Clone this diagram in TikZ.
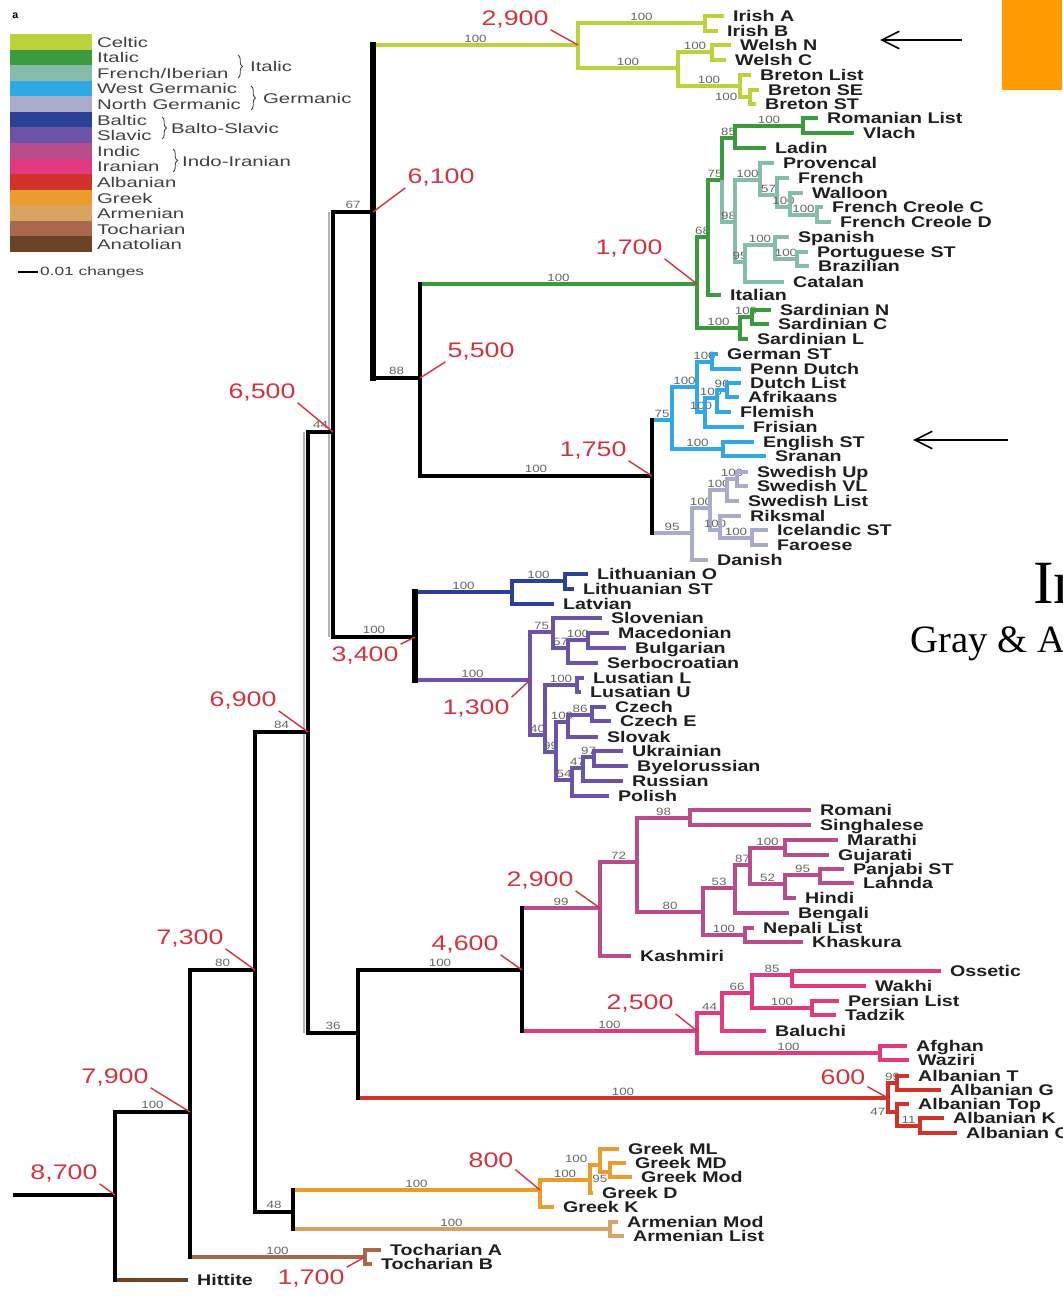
\documentclass[tikz,border=0pt]{standalone}
\usepackage{fontspec}
\setmainfont{Liberation Sans}
\newfontfamily\treefont[FakeStretch=1.27]{Liberation Sans}
\newfontfamily\legfont[FakeStretch=1.45]{Liberation Sans}
\newfontfamily\slidefont{Liberation Serif}
\usetikzlibrary{arrows.meta,calc,decorations.pathreplacing}

\definecolor{cCelt}{HTML}{BDD13B}
\definecolor{cItal}{HTML}{3A9B3E}
\definecolor{cFrIb}{HTML}{86BCAA}
\definecolor{cWG}{HTML}{2FA8E4}
\definecolor{cNG}{HTML}{A9ABCB}
\definecolor{cBalt}{HTML}{2B4199}
\definecolor{cSlav}{HTML}{6B54A8}
\definecolor{cIndic}{HTML}{B84C8C}
\definecolor{cIran}{HTML}{E2397F}
\definecolor{cAlb}{HTML}{D3322B}
\definecolor{cGreek}{HTML}{EA9C2C}
\definecolor{cArm}{HTML}{D9A462}
\definecolor{cToch}{HTML}{A9674C}
\definecolor{cAnat}{HTML}{6A4224}
\definecolor{cDate}{HTML}{D2343F}
\definecolor{cSlide}{HTML}{FF9B00}

\newcommand{\leafnode}[4]{\node[leaf] (#1) at (#2,#3) {#4};}

\tikzset{
  br/.style={line width=1.8pt},
  spine/.style={line width=2.4pt, black, line cap=rect},
  thickspine/.style={line width=3.6pt, black, line cap=rect},
  ghost/.style={line width=1.6pt, black!30},
  leaf/.style={anchor=west, inner xsep=5pt, inner ysep=0pt, text height=1.4ex, text depth=0.2ex,
    text=black!88, font=\treefont\bfseries\fontsize{8.8}{8.8}\selectfont},
  boot/.style={pos=0.75, above, inner sep=0.6pt, text=black!60, font=\treefont\fontsize{6}{6}\selectfont},
  datelbl/.style={inner sep=1pt, text=cDate, font=\treefont\fontsize{12}{12}\selectfont},
  datepin/.style={cDate, line width=0.8pt},
  legtext/.style={anchor=west, inner sep=1pt, text=black!75, font=\legfont\fontsize{8}{8}\selectfont},
  legbrace/.style={decorate, decoration={brace, amplitude=2.5pt}, line width=0.5pt, black!75},
  pointer/.style={-{Straight Barb[length=10pt,width=10pt]}, line width=0.9pt},
}

\begin{document}
\begin{tikzpicture}[x=0.02cm, y=-0.02cm]
  \useasboundingbox (0,0) rectangle (1062,1300);

  % Legend
  \node[anchor=west, inner sep=0pt, font=\bfseries\fontsize{6}{6}\selectfont] (panel) at (12,16) {a};
  \fill[cCelt] (10,34) rectangle (92,50);
  \fill[cItal] (10,50) rectangle (92,65);
  \fill[cFrIb] (10,65) rectangle (92,81);
  \fill[cWG] (10,81) rectangle (92,96);
  \fill[cNG] (10,96) rectangle (92,112);
  \fill[cBalt] (10,112) rectangle (92,127);
  \fill[cSlav] (10,127) rectangle (92,143);
  \fill[cIndic] (10,143) rectangle (92,159);
  \fill[cIran] (10,159) rectangle (92,174);
  \fill[cAlb] (10,174) rectangle (92,190);
  \fill[cGreek] (10,190) rectangle (92,205);
  \fill[cArm] (10,205) rectangle (92,221);
  \fill[cToch] (10,221) rectangle (92,236);
  \fill[cAnat] (10,236) rectangle (92,252);
  \node[legtext] (lCelt) at (95,42) {Celtic};
  \node[legtext] (lItal) at (95,57) {Italic};
  \node[legtext] (lFrIb) at (95,73) {French/Iberian};
  \node[legtext] (lWG) at (95,88) {West Germanic};
  \node[legtext] (lNG) at (95,104) {North Germanic};
  \node[legtext] (lBalt) at (95,120) {Baltic};
  \node[legtext] (lSlav) at (95,135) {Slavic};
  \node[legtext] (lIndic) at (95,151) {Indic};
  \node[legtext] (lIran) at (95,166) {Iranian};
  \node[legtext] (lAlb) at (95,182) {Albanian};
  \node[legtext] (lGreek) at (95,198) {Greek};
  \node[legtext] (lArm) at (95,213) {Armenian};
  \node[legtext] (lToch) at (95,229) {Tocharian};
  \node[legtext] (lAnat) at (95,244) {Anatolian};
  % Braces
  \coordinate (bIt1) at (238,55);   \coordinate (bIt2) at (238,78);
  \coordinate (bGe1) at (251,86);   \coordinate (bGe2) at (251,110);
  \coordinate (bBS1) at (162,117);  \coordinate (bBS2) at (162,139);
  \coordinate (bII1) at (173,149);  \coordinate (bII2) at (173,172);
  \draw[legbrace] (bIt1) -- (bIt2);
  \draw[legbrace] (bGe1) -- (bGe2);
  \draw[legbrace] (bBS1) -- (bBS2);
  \draw[legbrace] (bII1) -- (bII2);
  \node[legtext] (gItal) at (248,66) {Italic};
  \node[legtext] (gGerm) at (261,98) {Germanic};
  \node[legtext] (gBS) at (169,128) {Balto-Slavic};
  \node[legtext] (gII) at (180,161) {Indo-Iranian};
  % Scale bar
  \coordinate (scl0) at (18,272);
  \node[legtext, font=\legfont\fontsize{6.8}{6.8}\selectfont] (scl) at (38,272) {0.01 changes};
  \draw[line width=1.6pt] (scl0) -- (scl.west);

  % Backbone points
  \coordinate (root) at (15,1195);
  \coordinate (nA) at (115,1195);
  \coordinate (nB) at (190,1112);
  \coordinate (nC) at (255,970);
  \coordinate (nD) at (308,732);
  \coordinate (nE) at (333,432);
  \coordinate (nG) at (373,212);
  \coordinate (nH) at (420,378);
  \coordinate (nF) at (358,1033);
  \coordinate (nII) at (522,970);
  \coordinate (nGA) at (293,1212);
  \coordinate (bs) at (415,637);
  \coordinate (germ) at (652,476);

  % Celtic
  \coordinate (celt) at (578,45);
  \coordinate (irish) at (705,23);
  \coordinate (bryth) at (678,68);
  \coordinate (welsh) at (712,52);
  \coordinate (bret) at (740,86);
  \coordinate (bret2) at (750,97);
  \leafnode{irA}{724}{16}{Irish A}
  \leafnode{irB}{718}{31}{Irish B}
  \leafnode{weN}{731}{45}{Welsh N}
  \leafnode{weC}{726}{60}{Welsh C}
  \leafnode{brL}{751}{75}{Breton List}
  \leafnode{brSE}{759}{90}{Breton SE}
  \leafnode{brST}{756}{104}{Breton ST}
  \begin{scope}[br, cCelt]
    \draw (celt) |- node[boot]{100} (irish);
    \draw (celt) |- node[boot]{100} (bryth);
    \draw (irish) |- (irA.west);
    \draw (irish) |- (irB.west);
    \draw (bryth) |- node[boot]{100} (welsh);
    \draw (bryth) |- node[boot]{100} (bret);
    \draw (welsh) |- (weN.west);
    \draw (welsh) |- (weC.west);
    \draw (bret) |- (brL.west);
    \draw (bret) |- node[boot, pos=0.5, left]{100} (bret2);
    \draw (bret2) |- (brSE.west);
    \draw (bret2) |- (brST.west);
  \end{scope}

  % Italic
  \coordinate (ital) at (697,284);
  \coordinate (i75) at (708,237);
  \coordinate (i85) at (722,180);
  \coordinate (roml) at (735,138);
  \coordinate (rom) at (803,126);
  \coordinate (frib) at (735,222);
  \coordinate (gallo) at (760,180);
  \coordinate (g57) at (777,195);
  \coordinate (wal) at (790,207);
  \coordinate (fcr) at (817,215);
  \coordinate (iber) at (745,262);
  \coordinate (sppt) at (775,245);
  \coordinate (port) at (797,259);
  \coordinate (sard) at (740,328);
  \coordinate (sardNC) at (752,317);
  \leafnode{romL}{818}{118}{Romanian List}
  \leafnode{vla}{854}{133}{Vlach}
  \leafnode{lad}{766}{148}{Ladin}
  \leafnode{prv}{774}{163}{Provencal}
  \leafnode{fre}{789}{178}{French}
  \leafnode{wln}{803}{193}{Walloon}
  \leafnode{fcC}{823}{207}{French Creole C}
  \leafnode{fcD}{831}{222}{French Creole D}
  \leafnode{spa}{789}{237}{Spanish}
  \leafnode{por}{808}{252}{Portuguese ST}
  \leafnode{bra}{809}{266}{Brazilian}
  \leafnode{cat}{784}{282}{Catalan}
  \leafnode{ita}{721}{295}{Italian}
  \leafnode{sdN}{771}{310}{Sardinian N}
  \leafnode{sdC}{769}{324}{Sardinian C}
  \leafnode{sdL}{748}{339}{Sardinian L}
  \begin{scope}[br, cItal]
    \draw (ital) |- node[boot]{68} (i75);
    \draw (ital) |- node[boot]{100} (sard);
    \draw (i75) |- node[boot]{75} (i85);
    \draw (i75) |- (ita.west);
    \draw (i85) |- node[boot]{85} (roml);
    \draw (roml) |- node[boot]{100} (rom);
    \draw (roml) |- (lad.west);
    \draw (rom) |- (romL.west);
    \draw (rom) |- (vla.west);
    \draw (sard) |- node[boot]{100} (sardNC);
    \draw (sard) |- (sdL.west);
    \draw (sardNC) |- (sdN.west);
    \draw (sardNC) |- (sdC.west);
  \end{scope}
  \begin{scope}[br, cFrIb]
    \draw (i85) |- node[boot]{98} (frib);
    \draw (frib) |- node[boot]{100} (gallo);
    \draw (frib) |- node[boot]{95} (iber);
    \draw (gallo) |- (prv.west);
    \draw (gallo) |- node[boot]{57} (g57);
    \draw (g57) |- (fre.west);
    \draw (g57) |- node[boot]{100} (wal);
    \draw (wal) |- (wln.west);
    \draw (wal) |- node[boot]{100} (fcr);
    \draw (fcr) |- (fcC.west);
    \draw (fcr) |- (fcD.west);
    \draw (iber) |- node[boot]{100} (sppt);
    \draw (iber) |- (cat.west);
    \draw (sppt) |- (spa.west);
    \draw (sppt) |- node[boot]{100} (port);
    \draw (port) |- (por.west);
    \draw (port) |- (bra.west);
  \end{scope}

  % Germanic
  \coordinate (wg) at (672,420);
  \coordinate (wg1) at (697,387);
  \coordinate (gd) at (712,362);
  \coordinate (wg2) at (705,412);
  \coordinate (dfl) at (717,398);
  \coordinate (da) at (727,390);
  \coordinate (eng) at (723,449);
  \coordinate (ng) at (692,533);
  \coordinate (sw) at (710,508);
  \coordinate (swe) at (727,490);
  \coordinate (swe2) at (737,479);
  \coordinate (ic) at (720,530);
  \coordinate (isl) at (752,538);
  \leafnode{gerST}{718}{354}{German ST}
  \leafnode{penn}{741}{369}{Penn Dutch}
  \leafnode{dut}{741}{383}{Dutch List}
  \leafnode{afr}{739}{397}{Afrikaans}
  \leafnode{fle}{731}{412}{Flemish}
  \leafnode{fri}{744}{427}{Frisian}
  \leafnode{engST}{754}{442}{English ST}
  \leafnode{sra}{766}{456}{Sranan}
  \leafnode{swU}{748}{472}{Swedish Up}
  \leafnode{swV}{748}{486}{Swedish VL}
  \leafnode{swL}{739}{501}{Swedish List}
  \leafnode{rik}{741}{516}{Riksmal}
  \leafnode{ice}{768}{530}{Icelandic ST}
  \leafnode{far}{768}{545}{Faroese}
  \leafnode{dan}{708}{560}{Danish}
  \begin{scope}[br, cWG]
    \draw (germ) |- node[boot]{75} (wg);
    \draw (wg) |- node[boot]{100} (wg1);
    \draw (wg) |- node[boot]{100} (eng);
    \draw (wg1) |- node[boot]{100} (gd);
    \draw (wg1) |- node[boot]{100} (wg2);
    \draw (gd) |- (gerST.west);
    \draw (gd) |- (penn.west);
    \draw (wg2) |- node[boot]{100} (dfl);
    \draw (wg2) |- (fri.west);
    \draw (dfl) |- node[boot]{96} (da);
    \draw (dfl) |- (fle.west);
    \draw (da) |- (dut.west);
    \draw (da) |- (afr.west);
    \draw (eng) |- (engST.west);
    \draw (eng) |- (sra.west);
  \end{scope}
  \begin{scope}[br, cNG]
    \draw (germ) |- node[boot]{95} (ng);
    \draw (ng) |- node[boot]{100} (sw);
    \draw (ng) |- (dan.west);
    \draw (sw) |- node[boot]{100} (swe);
    \draw (sw) |- node[boot]{100} (ic);
    \draw (swe) |- node[boot]{100} (swe2);
    \draw (swe) |- (swL.west);
    \draw (swe2) |- (swU.west);
    \draw (swe2) |- (swV.west);
    \draw (ic) |- (rik.west);
    \draw (ic) |- node[boot]{100} (isl);
    \draw (isl) |- (ice.west);
    \draw (isl) |- (far.west);
  \end{scope}

  % Balto-Slavic
  \coordinate (balt) at (512,592);
  \coordinate (lith) at (565,581);
  \coordinate (slav) at (530,680);
  \coordinate (ss) at (553,632);
  \coordinate (sb) at (568,648);
  \coordinate (mb) at (588,640);
  \coordinate (wes) at (545,735);
  \coordinate (lus) at (577,685);
  \coordinate (wes2) at (556,752);
  \coordinate (cz) at (568,722);
  \coordinate (czc) at (592,715);
  \coordinate (es) at (572,780);
  \coordinate (es2) at (583,768);
  \coordinate (ub) at (594,757);
  \leafnode{litO}{588}{574}{Lithuanian O}
  \leafnode{litST}{574}{589}{Lithuanian ST}
  \leafnode{lat}{554}{604}{Latvian}
  \leafnode{slo}{602}{618}{Slovenian}
  \leafnode{mac}{609}{633}{Macedonian}
  \leafnode{bul}{626}{648}{Bulgarian}
  \leafnode{ser}{598}{663}{Serbocroatian}
  \leafnode{lsL}{584}{678}{Lusatian L}
  \leafnode{lsU}{581}{692}{Lusatian U}
  \leafnode{cze}{606}{707}{Czech}
  \leafnode{czE}{611}{721}{Czech E}
  \leafnode{slk}{598}{737}{Slovak}
  \leafnode{ukr}{623}{751}{Ukrainian}
  \leafnode{bye}{628}{766}{Byelorussian}
  \leafnode{rus}{623}{781}{Russian}
  \leafnode{pol}{609}{796}{Polish}
  \begin{scope}[br, cBalt]
    \draw (bs) |- node[boot]{100} (balt);
    \draw (balt) |- node[boot]{100} (lith);
    \draw (balt) |- (lat.west);
    \draw (lith) |- (litO.west);
    \draw (lith) |- (litST.west);
  \end{scope}
  \begin{scope}[br, cSlav]
    \draw (bs) |- node[boot]{100} (slav);
    \draw (slav) |- node[boot]{75} (ss);
    \draw (slav) |- node[boot]{40} (wes);
    \draw (ss) |- (slo.west);
    \draw (ss) |- node[boot]{57} (sb);
    \draw (sb) |- node[boot]{100} (mb);
    \draw (sb) |- (ser.west);
    \draw (mb) |- (mac.west);
    \draw (mb) |- (bul.west);
    \draw (wes) |- node[boot]{100} (lus);
    \draw (wes) |- node[boot]{99} (wes2);
    \draw (lus) |- (lsL.west);
    \draw (lus) |- (lsU.west);
    \draw (wes2) |- node[boot]{100} (cz);
    \draw (wes2) |- node[boot]{54} (es);
    \draw (cz) |- node[boot]{86} (czc);
    \draw (cz) |- (slk.west);
    \draw (czc) |- (cze.west);
    \draw (czc) |- (czE.west);
    \draw (es) |- node[boot]{47} (es2);
    \draw (es) |- (pol.west);
    \draw (es2) |- node[boot]{97} (ub);
    \draw (es2) |- (rus.west);
    \draw (ub) |- (ukr.west);
    \draw (ub) |- (bye.west);
  \end{scope}

  % Indic
  \coordinate (indic) at (600,908);
  \coordinate (i72) at (637,862);
  \coordinate (rs) at (690,818);
  \coordinate (i80) at (703,912);
  \coordinate (nk) at (745,935);
  \coordinate (i53) at (735,888);
  \coordinate (i87) at (750,865);
  \coordinate (mg) at (785,848);
  \coordinate (i52) at (785,884);
  \coordinate (pl) at (820,875);
  \leafnode{rmi}{811}{810}{Romani}
  \leafnode{sin}{811}{825}{Singhalese}
  \leafnode{mar}{838}{840}{Marathi}
  \leafnode{guj}{829}{855}{Gujarati}
  \leafnode{pan}{844}{869}{Panjabi ST}
  \leafnode{lah}{854}{883}{Lahnda}
  \leafnode{hin}{796}{898}{Hindi}
  \leafnode{ben}{789}{913}{Bengali}
  \leafnode{nep}{754}{928}{Nepali List}
  \leafnode{kha}{803}{942}{Khaskura}
  \leafnode{kas}{631}{956}{Kashmiri}
  \begin{scope}[br, cIndic]
    \draw (indic) |- node[boot]{72} (i72);
    \draw (indic) |- (kas.west);
    \draw (i72) |- node[boot]{98} (rs);
    \draw (i72) |- node[boot]{80} (i80);
    \draw (rs) |- (rmi.west);
    \draw (rs) |- (sin.west);
    \draw (i80) |- node[boot]{53} (i53);
    \draw (i80) |- node[boot]{100} (nk);
    \draw (nk) |- (nep.west);
    \draw (nk) |- (kha.west);
    \draw (i53) |- node[boot]{87} (i87);
    \draw (i53) |- (ben.west);
    \draw (i87) |- node[boot]{100} (mg);
    \draw (i87) |- node[boot]{52} (i52);
    \draw (mg) |- (mar.west);
    \draw (mg) |- (guj.west);
    \draw (i52) |- node[boot]{95} (pl);
    \draw (i52) |- (hin.west);
    \draw (pl) |- (pan.west);
    \draw (pl) |- (lah.west);
  \end{scope}

  % Iranian
  \coordinate (iran) at (697,1031);
  \coordinate (ir44) at (722,1013);
  \coordinate (ir66) at (752,993);
  \coordinate (ow) at (792,975);
  \coordinate (pt) at (812,1008);
  \coordinate (aw) at (880,1053);
  \leafnode{oss}{941}{971}{Ossetic}
  \leafnode{wak}{866}{986}{Wakhi}
  \leafnode{per}{839}{1001}{Persian List}
  \leafnode{tad}{836}{1015}{Tadzik}
  \leafnode{bal}{766}{1031}{Baluchi}
  \leafnode{afg}{907}{1046}{Afghan}
  \leafnode{waz}{909}{1060}{Waziri}
  \begin{scope}[br, cIran]
    \draw (iran) |- node[boot]{44} (ir44);
    \draw (iran) |- node[boot]{100} (aw);
    \draw (ir44) |- node[boot]{66} (ir66);
    \draw (ir44) |- (bal.west);
    \draw (ir66) |- node[boot]{85} (ow);
    \draw (ir66) |- node[boot]{100} (pt);
    \draw (ow) |- (oss.west);
    \draw (ow) |- (wak.west);
    \draw (pt) |- (per.west);
    \draw (pt) |- (tad.west);
    \draw (aw) |- (afg.west);
    \draw (aw) |- (waz.west);
  \end{scope}

  % Albanian
  \coordinate (alb) at (888,1098);
  \coordinate (a99) at (897,1083);
  \coordinate (a47) at (897,1112);
  \coordinate (ak) at (920,1126);
  \leafnode{alT}{909}{1076}{Albanian T}
  \leafnode{alG}{941}{1090}{Albanian G}
  \leafnode{alTop}{909}{1104}{Albanian Top}
  \leafnode{alK}{944}{1118}{Albanian K}
  \leafnode{alC}{957}{1133}{Albanian C}
  \begin{scope}[br, cAlb]
    \draw (alb) |- node[boot]{99} (a99);
    \draw (alb) |- node[boot, pos=0.5, left]{47} (a47);
    \draw (a99) |- (alT.west);
    \draw (a99) |- (alG.west);
    \draw (a47) |- (alTop.west);
    \draw (a47) |- node[boot]{11} (ak);
    \draw (ak) |- (alK.west);
    \draw (ak) |- (alC.west);
  \end{scope}

  % Greek and Armenian
  \coordinate (greek) at (540,1190);
  \coordinate (g100) at (590,1180);
  \coordinate (gm) at (600,1165);
  \coordinate (gmd) at (610,1172);
  \coordinate (arm) at (610,1229);
  \leafnode{grML}{619}{1149}{Greek ML}
  \leafnode{grMD}{626}{1163}{Greek MD}
  \leafnode{grMod}{632}{1177}{Greek Mod}
  \leafnode{grD}{593}{1193}{Greek D}
  \leafnode{grK}{554}{1207}{Greek K}
  \leafnode{arMod}{618}{1222}{Armenian Mod}
  \leafnode{arL}{624}{1236}{Armenian List}
  \begin{scope}[br, cGreek]
    \draw (nGA) |- node[boot]{100} (greek);
    \draw (greek) |- node[boot]{100} (g100);
    \draw (greek) |- (grK.west);
    \draw (g100) |- node[boot, pos=0.5, above left]{100} (gm);
    \draw (g100) |- (grD.west);
    \draw (gm) |- (grML.west);
    \draw (gm) |- node[boot, pos=1, below left]{95} (gmd);
    \draw (gmd) |- (grMD.west);
    \draw (gmd) |- (grMod.west);
  \end{scope}
  \begin{scope}[br, cArm]
    \draw (nGA) |- node[boot]{100} (arm);
    \draw (arm) |- (arMod.west);
    \draw (arm) |- (arL.west);
  \end{scope}

  % Tocharian and Anatolian
  \coordinate (toch) at (365,1257);
  \leafnode{toA}{381}{1250}{Tocharian A}
  \leafnode{toB}{372}{1264}{Tocharian B}
  \leafnode{hit}{188}{1280}{Hittite}
  \begin{scope}[br, cToch]
    \draw (nB) |- node[boot]{100} (toch);
    \draw (toch) |- (toA.west);
    \draw (toch) |- (toB.west);
  \end{scope}
  \draw[br, cAnat] (nA) |- (hit.west);

  % Stems into the other clades
  \draw[br, cCelt] (nG) |- node[boot]{100} (celt);
  \draw[br, cItal] (nH) |- node[boot]{100} (ital);
  \draw[br, cIndic] (nII) |- node[boot]{99} (indic);
  \draw[br, cIran] (nII) |- node[boot]{100} (iran);
  \draw[br, cAlb] (nF) |- node[boot]{100} (alb);

  % Backbone
  \draw[ghost] ($(nE -| nD)+(-4,0)$) -- ($(nF -| nD)+(-4,0)$);
  \draw[ghost] ($(nG -| nE)+(-4,0)$) -- ($(bs -| nE)+(-4,0)$);
  \draw[spine] (root) -- (nA);
  \draw[spine] (nA) |- node[boot]{100} (nB);
  \draw[spine] (nB) |- node[boot]{80} (nC);
  \draw[spine] (nC) |- node[boot]{84} (nD);
  \draw[spine] (nC) |- node[boot]{48} (nGA);
  \draw[spine] (nD) |- node[boot]{44} (nE);
  \draw[spine] (nD) |- node[boot]{36} (nF);
  \draw[spine] (nE) |- node[boot]{67} (nG);
  \draw[spine] (nE) |- node[boot]{100} (bs);
  \draw[spine] (nG) |- node[boot]{88} (nH);
  \draw[spine] (nH) |- node[boot]{100} (germ);
  \draw[spine] (nF) |- node[boot]{100} (nII);
  % black verticals over the clade stems
  \draw[spine] (nB -| nA) -- (hit.west -| nA);
  \draw[spine] (nC -| nB) -- (toch -| nB);
  \draw[thickspine] (celt -| nG) -- (nH -| nG);
  \draw[spine] (ital -| nH) -- (germ -| nH);
  \draw[thickspine] (balt -| bs) -- (slav -| bs);
  \draw[spine] (wg -| germ) -- (ng -| germ);
  \draw[spine] (nII -| nF) -- (alb -| nF);
  \draw[spine] (indic -| nII) -- (iran -| nII);
  \draw[spine] (greek -| nGA) -- (arm -| nGA);

  % Divergence dates
  \node[datelbl] (d87) at (64,1173) {8,700};
  \node[datelbl] (d79) at (115,1077) {7,900};
  \node[datelbl] (d73) at (190,938) {7,300};
  \node[datelbl] (d69) at (243,700) {6,900};
  \node[datelbl] (d65) at (262,392) {6,500};
  \node[datelbl] (d61) at (441,177) {6,100};
  \node[datelbl] (d55) at (481,351) {5,500};
  \node[datelbl] (d29c) at (515,19) {2,900};
  \node[datelbl] (d17i) at (629,248) {1,700};
  \node[datelbl] (d175) at (593,450) {1,750};
  \node[datelbl] (d34) at (365,655) {3,400};
  \node[datelbl] (d13) at (476,708) {1,300};
  \node[datelbl] (d29i) at (540,880) {2,900};
  \node[datelbl] (d46) at (465,944) {4,600};
  \node[datelbl] (d25) at (640,1003) {2,500};
  \node[datelbl] (d6) at (843,1077) {600};
  \node[datelbl] (d8) at (491,1160) {800};
  \node[datelbl] (d17t) at (311,1278) {1,700};
  \draw[datepin] (d87.south east) -- (nA);
  \draw[datepin] (d79.south east) -- (nB);
  \draw[datepin] (d73.south east) -- (nC);
  \draw[datepin] (d69.south east) -- (nD);
  \draw[datepin] (d65.south east) -- (nE);
  \draw[datepin] (d61.south west) -- (nG);
  \draw[datepin] (d55.south west) -- (nH);
  \draw[datepin] (d29c.south east) -- (celt);
  \draw[datepin] (d17i.south east) -- (ital);
  \draw[datepin] (d175.south east) -- (germ);
  \draw[datepin] (d34.north east) -- (bs);
  \draw[datepin] (d13.north east) -- (slav);
  \draw[datepin] (d29i.south east) -- (indic);
  \draw[datepin] (d46.south east) -- (nII);
  \draw[datepin] (d25.south east) -- (iran);
  \draw[datepin] (d6.south east) -- (alb);
  \draw[datepin] (d8.south east) -- (greek);
  \draw[datepin] (d17t.north east) -- (toch);

  % Slide pieces on the right
  \fill[cSlide] (1002,0) rectangle (1062,90);
  \coordinate (aT1) at (962,40);  \coordinate (aH1) at (880,40);
  \coordinate (aT2) at (1008,440); \coordinate (aH2) at (913,440);
  \draw[pointer] (aT1) -- (aH1);
  \draw[pointer] (aT2) -- (aH2);
  \node[anchor=base west, inner sep=0pt, font=\slidefont\fontsize{35}{35}\selectfont] (ttl) at (1033,603) {In};
  \node[anchor=base west, inner sep=0pt, font=\slidefont\fontsize{22}{22}\selectfont] (sub) at (910,652) {Gray \& A};
\end{tikzpicture}
\end{document}
